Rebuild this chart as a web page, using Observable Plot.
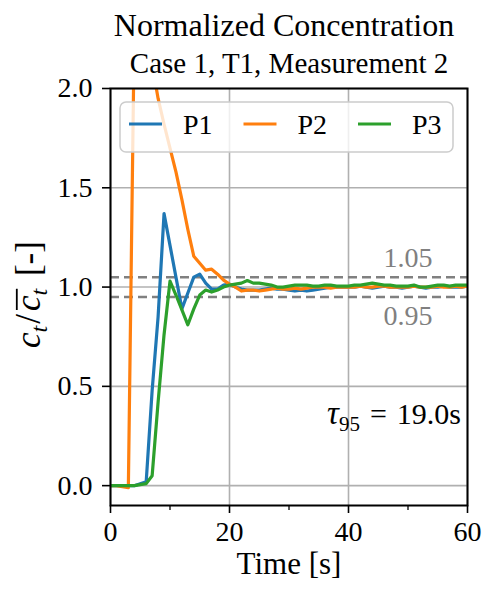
<!DOCTYPE html>
<html><head><meta charset="utf-8">
<script src="https://cdn.jsdelivr.net/npm/d3@7"></script>
<script src="https://cdn.jsdelivr.net/npm/@observablehq/plot@0.6"></script>
<style>body{margin:0;background:#fff}#chart svg{display:block}</style>
</head><body><div id="chart"></div>
<script>
// ---- data ----
const time = [0,1,2,3,4,5,6,7,8,9,10,11,12,13,14,15,16,17,18,19,20,21,22,23,24,25,26,27,28,29,30,31,32,33,34,35,36,37,38,39,40,41,42,43,44,45,46,47,48,49,50,51,52,53,54,55,56,57,58,59,60];
const p1 = [0.00,0.00,0.00,0.00,0.00,0.01,0.02,0.48,0.85,1.37,1.21,1.05,0.89,0.97,1.05,1.065,1.02,0.99,0.99,1.01,1.015,1.00,0.99,0.985,0.985,0.985,0.99,0.995,0.99,0.99,0.985,0.98,0.985,0.98,0.985,0.99,0.995,1.00,1.00,1.00,1.00,1.00,1.005,1.00,0.995,1.00,1.005,1.00,1.00,0.995,1.00,1.005,1.00,0.995,1.00,1.00,1.005,1.00,1.00,1.00,1.005];
const p2 = [0.00,0.00,-0.005,-0.01,2.30,2.80,2.55,2.12,1.95,1.82,1.70,1.58,1.44,1.29,1.155,1.12,1.085,1.09,1.065,1.035,1.015,1.00,0.98,0.985,0.985,0.98,0.985,0.99,0.995,0.99,0.99,0.995,0.99,0.995,1.00,1.00,1.00,0.995,1.00,1.00,1.00,1.00,1.005,1.00,1.00,1.005,1.005,1.00,1.00,1.00,1.00,1.005,1.00,1.00,1.00,1.005,1.00,1.00,1.005,1.00,1.005];
const p3 = [0.00,0.00,0.00,0.00,0.00,0.005,0.01,0.05,0.42,0.76,1.03,0.96,0.885,0.81,0.89,0.96,0.985,0.975,0.985,1.00,1.01,1.015,1.02,1.033,1.02,1.02,1.015,1.01,1.00,1.00,1.005,1.01,1.01,1.01,1.005,1.005,1.01,1.01,1.005,1.005,1.005,1.01,1.01,1.015,1.02,1.015,1.01,1.01,1.005,1.005,1.005,1.01,1.00,1.00,1.005,1.01,1.01,1.005,1.01,1.01,1.01];
const seriesNames = ["P1","P2","P3"];
const seriesColors = ["#1f77b4","#ff7f0e","#2ca02c"];
const xTicks = [0,20,40,60];
const xMinorTicks = [10,30,50];
const yTicks = [0,0.5,1.0,1.5,2.0];
const bandLevels = [0.95,1.05];
const bandLabels = ["0.95","1.05"];
const bandLabelX = 50;
const titleText = "Normalized Concentration";
const subtitleText = "Case 1, T1, Measurement 2";
const xLabelText = "Time [s]";
const tauValue = "19.0";

const seriesValues = [p1,p2,p3];
const data = [];
seriesNames.forEach((s,i)=>time.forEach((t,j)=>data.push({s, t, v: seriesValues[i][j]})));

const FONT = "'Liberation Serif','Times New Roman',serif";
const chart = Plot.plot({
  width: 487, height: 591,
  marginTop: 88, marginRight: 20, marginBottom: 86, marginLeft: 110,
  style: {fontFamily: FONT, fontSize: "28px", color: "#000", background: "#fff", overflow: "visible"},
  x: {domain: [0,60]},
  y: {domain: [-0.1,2.0]},
  color: {domain: seriesNames, range: seriesColors},
  marks: [
    Plot.gridX(xTicks, {stroke: "#b0b0b0", strokeOpacity: 1, strokeWidth: 1.6}),
    Plot.gridY(yTicks, {stroke: "#b0b0b0", strokeOpacity: 1, strokeWidth: 1.6}),
    Plot.ruleY(bandLevels, {stroke: "#808080", strokeWidth: 2.5, strokeDasharray: "9,5"}),
    Plot.line(data, {x: "t", y: "v", z: "s", stroke: "s", strokeWidth: 3.2, clip: true}),
    Plot.frame({stroke: "#000", strokeWidth: 2}),
    Plot.axisX(xTicks, {tickSize: 8, tickPadding: 8, tickFormat: d3.format("d"), label: null, strokeWidth: 1.6, fontSize: 28}),
    Plot.axisX(xMinorTicks, {tickSize: 5, tickFormat: () => "", label: null, strokeWidth: 1.3}),
    Plot.axisY(yTicks, {tickSize: 8, tickPadding: 10, tickFormat: d3.format(".1f"), label: null, strokeWidth: 1.6, fontSize: 28}),
    Plot.text([bandLabels[1]], {x: bandLabelX, y: bandLevels[1], text: d => d, dy: -10, lineAnchor: "bottom", fill: "#808080", fontSize: 28}),
    Plot.text([bandLabels[0]], {x: bandLabelX, y: bandLevels[0], text: d => d, dy: 8, lineAnchor: "top", fill: "#808080", fontSize: 28}),
    Plot.text([titleText], {frameAnchor: "top", text: d => d, dy: -53, dx: -5, lineAnchor: "bottom", fontSize: 32}),
    Plot.text([subtitleText], {frameAnchor: "top", text: d => d, dy: -16, lineAnchor: "bottom", fontSize: 29}),
    Plot.text([xLabelText], {frameAnchor: "bottom", text: d => d, dy: 68, lineAnchor: "bottom", fontSize: 31})
  ]
});
document.getElementById("chart").appendChild(chart);

const svg = d3.select(chart);
const sx = chart.scale("x"), sy = chart.scale("y");
const x0 = sx.apply(0), x1 = sx.apply(60), yTop = sy.apply(2.0), yBot = sy.apply(-0.1);

// y-axis label: c_t / overline(c_t) [-]
const gl = svg.append("g").attr("transform", `translate(${x0 - 70},${(yTop + yBot)/2 - 2}) rotate(-90)`);
const yl = gl.append("text").attr("text-anchor", "middle").attr("font-family", FONT).attr("font-size", 35).attr("fill", "#000");
yl.append("tspan").attr("font-style", "italic").text("c");
yl.append("tspan").attr("font-style", "italic").attr("font-size", 24).attr("dy", 7).text("t");
yl.append("tspan").attr("dy", -7).attr("dx", 2).text("/");
yl.append("tspan").attr("font-style", "italic").attr("dx", 3).text("c");
yl.append("tspan").attr("font-style", "italic").attr("font-size", 24).attr("dy", 7).text("t");
yl.append("tspan").attr("dy", -7).attr("dx", 4).text(" [-]");
const ynode = yl.node();
try {
  const e3 = ynode.getExtentOfChar(3), e4 = ynode.getExtentOfChar(4);
  const top = e3.y + e3.height * 0.2;
  gl.append("line").attr("x1", e3.x + 1).attr("x2", e4.x + e4.width).attr("y1", top).attr("y2", top)
    .attr("stroke", "#000").attr("stroke-width", 1.8);
} catch (err) {}

// tau annotation
const tl = svg.append("text").attr("text-anchor", "end").attr("font-family", FONT).attr("font-size", 30).attr("fill", "#000")
  .attr("x", x1 - 6).attr("y", sy.apply(0.31));
tl.append("tspan").attr("font-style", "italic").attr("font-size", 33).text("τ");
tl.append("tspan").attr("font-size", 21).attr("dy", 7).text("95");
tl.append("tspan").attr("dy", -7).attr("dx", 10).text("=");
tl.append("tspan").attr("dx", 10).text(`${tauValue}s`);

// legend
const lg = svg.append("g");
const lx = x0 + 10, ly = yTop + 14, lw = 333, lh = 50;
lg.append("rect").attr("x", lx).attr("y", ly).attr("width", lw).attr("height", lh).attr("rx", 6)
  .attr("fill", "#fff").attr("fill-opacity", 0.8).attr("stroke", "#cccccc").attr("stroke-width", 1.5);
seriesNames.forEach((name, i) => {
  const ex = lx + 9 + i * 114.5;
  const ey = ly + 22;
  lg.append("line").attr("x1", ex).attr("x2", ex + 33).attr("y1", ey).attr("y2", ey)
    .attr("stroke", seriesColors[i]).attr("stroke-width", 3.2);
  lg.append("text").attr("x", ex + 54).attr("y", ey + 10).attr("text-anchor", "start")
    .attr("font-family", FONT).attr("font-size", 28).attr("fill", "#000").text(name);
});
</script>
</body></html>
